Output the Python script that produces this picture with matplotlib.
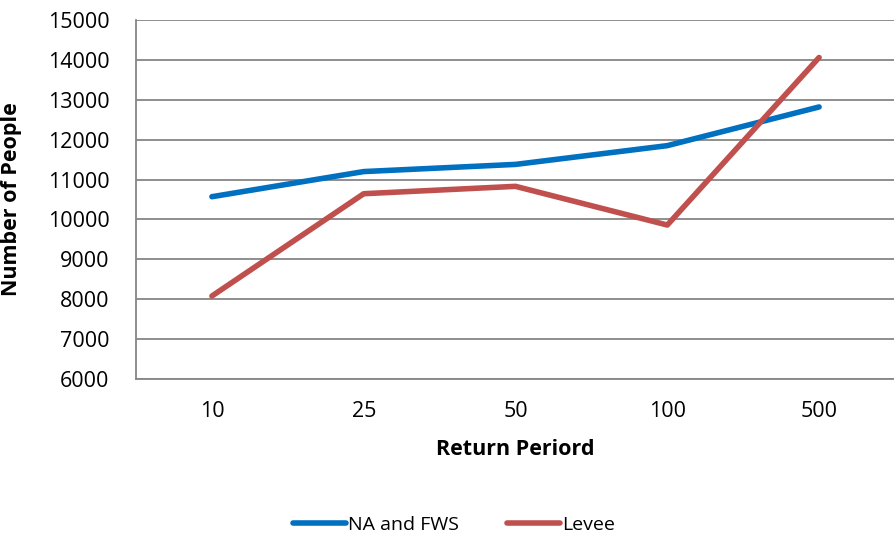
import matplotlib.pyplot as plt
from matplotlib.ticker import MultipleLocator

# data
periods = ["10", "25", "50", "100", "500"]
na_fws = [10570, 11200, 11380, 11850, 12820]
levee = [8080, 10645, 10830, 9860, 14060]

plt.rcParams["font.family"] = ["Open Sans", "DejaVu Sans"]

fig = plt.figure(figsize=(8.95, 5.4), dpi=100)
ax = fig.add_axes([136 / 895, 1 - 379 / 540, 1 - 136 / 895, (379 - 20) / 540])

x = list(range(len(periods)))
ax.plot(x, na_fws, color="#0070C0", lw=4, solid_capstyle="round", label="NA and FWS")
ax.plot(x, levee, color="#C0504D", lw=4, solid_capstyle="round", label="Levee")

ax.set_xlim(-0.5, len(periods) - 0.5)
ax.set_ylim(6000, 15000)
ax.yaxis.set_major_locator(MultipleLocator(1000))
ax.set_xticks(x)
ax.set_xticklabels(periods)
ax.grid(axis="y", color="#868686", lw=1.3)
ax.set_axisbelow(True)

for s in ["top", "right"]:
    ax.spines[s].set_visible(False)
for s in ["left", "bottom"]:
    ax.spines[s].set_color("#868686")
    ax.spines[s].set_linewidth(1.3)

ax.tick_params(axis="x", length=0, labelsize=15.5, pad=16)
ax.tick_params(axis="y", length=0, labelsize=15.5, pad=19)

ax.set_xlabel("Return Periord", fontsize=15.5, fontweight="bold", labelpad=12)
ax.set_ylabel("Number of People", fontsize=15.5, fontweight="bold")
ax.yaxis.set_label_coords(-0.15, 0.5)

fig.legend(loc="center", bbox_to_anchor=(454 / 895, 1 - 525 / 540), ncol=2,
           frameon=False, fontsize=14, handlelength=2.7, handletextpad=0.1,
           columnspacing=2.5)

fig.savefig("out.png", dpi=100)
